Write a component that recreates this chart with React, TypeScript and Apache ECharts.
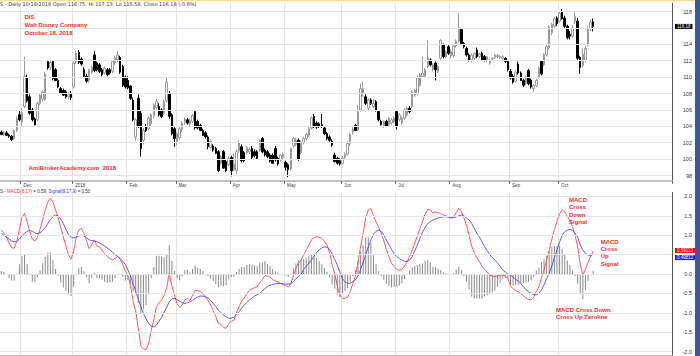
import React, { useEffect, useRef } from "react";
import * as echarts from "echarts";

// ---------- categories: trading days shown ----------
const DAYS_2017_11 = [20, 21, 22, 24, 27, 28, 29, 30];
const DAYS_2017_12 = [1, 4, 5, 6, 7, 8, 11, 12, 13, 14, 15, 18, 19, 20, 21, 22, 26, 27, 28, 29];
const DAYS_2018_01 = [2, 3, 4, 5, 8, 9, 10, 11, 12, 16, 17, 18, 19, 22, 23, 24, 25, 26, 29, 30, 31];
const DAYS_2018_02 = [1, 2, 5, 6, 7, 8, 9, 12, 13, 14, 15, 16, 20, 21, 22, 23, 26, 27, 28];
const DAYS_2018_03 = [1, 2, 5, 6, 7, 8, 9, 12, 13, 14, 15, 16, 19, 20, 21, 22, 23, 26, 27, 28, 29];
const DAYS_2018_04 = [2, 3, 4, 5, 6, 9, 10, 11, 12, 13, 16, 17, 18, 19, 20, 23, 24, 25, 26, 27, 30];
const DAYS_2018_05 = [1, 2, 3, 4, 7, 8, 9, 10, 11, 14, 15, 16, 17, 18, 21, 22, 23, 24, 25, 29, 30, 31];
const DAYS_2018_06 = [1, 4, 5, 6, 7, 8, 11, 12, 13, 14, 15, 18, 19, 20, 21, 22, 25, 26, 27, 28, 29];
const DAYS_2018_07 = [2, 3, 5, 6, 9, 10, 11, 12, 13, 16, 17, 18, 19, 20, 23, 24, 25, 26, 27, 30, 31];
const DAYS_2018_08 = [1, 2, 3, 6, 7, 8, 9, 10, 13, 14, 15, 16, 17, 20, 21, 22, 23, 24, 27, 28, 29, 30, 31];
const DAYS_2018_09 = [4, 5, 6, 7, 10, 11, 12, 13, 14, 17, 18, 19, 20, 21, 24, 25, 26, 27, 28];
const DAYS_2018_10 = [1, 2, 3, 4, 5, 8, 9, 10, 11, 12, 15, 16, 17, 18];

const MONTH_BLOCKS: [number, number, number[]][] = [
  [2017, 11, DAYS_2017_11], [2017, 12, DAYS_2017_12], [2018, 1, DAYS_2018_01],
  [2018, 2, DAYS_2018_02], [2018, 3, DAYS_2018_03], [2018, 4, DAYS_2018_04],
  [2018, 5, DAYS_2018_05], [2018, 6, DAYS_2018_06], [2018, 7, DAYS_2018_07],
  [2018, 8, DAYS_2018_08], [2018, 9, DAYS_2018_09], [2018, 10, DAYS_2018_10],
];
// tick labels for the first trading day of each month from December on
const TICK_LABELS = ["Dec", "2018", "Feb", "Mar", "Apr", "May", "Jun", "Jul", "Aug", "Sep", "Oct"];
const EMPTY_RIGHT_SLOTS = 30;

// ---------- price data [open, high, low, close] ----------
const OHLC_2017_11 = [
  [103.3, 103.5, 102.9, 103.0], [103.0, 103.4, 102.8, 103.2], [103.2, 103.4, 102.8, 102.9],
  [102.9, 103.1, 102.6, 102.8], [102.8, 102.9, 102.2, 102.4], [102.5, 103.6, 102.3, 103.5],
  [103.5, 105.2, 103.3, 104.9], [105.4, 106.0, 104.6, 104.8],
];
const OHLC_2017_12 = [
  [104.5, 106.2, 104.0, 105.7], [106.4, 112.5, 106.2, 110.1], [109.9, 110.3, 106.9, 107.1],
  [107.6, 107.9, 105.4, 105.6], [106.0, 106.2, 104.6, 104.8], [104.9, 105.1, 104.1, 104.2],
  [104.8, 107.0, 104.6, 106.8], [106.8, 108.0, 106.6, 107.8], [107.3, 108.4, 107.0, 108.2],
  [107.3, 110.6, 107.1, 110.4], [111.9, 112.1, 110.9, 111.1], [111.2, 112.1, 110.8, 111.8],
  [111.9, 112.0, 109.6, 109.8], [110.9, 111.1, 109.5, 109.6], [109.6, 109.8, 108.7, 108.8],
  [108.6, 108.8, 107.9, 108.0], [108.4, 108.6, 107.7, 107.8], [108.2, 108.4, 107.4, 107.6],
  [107.6, 108.2, 107.3, 107.9], [108.0, 108.3, 107.2, 107.5],
];
const OHLC_2018_01 = [
  [108.8, 111.9, 108.6, 111.7], [111.9, 113.2, 111.6, 112.9], [113.0, 113.3, 111.6, 111.8],
  [112.2, 112.4, 111.4, 111.6], [110.9, 111.2, 110.0, 110.1], [110.1, 110.4, 109.3, 109.5],
  [109.6, 111.0, 109.3, 110.9], [110.6, 111.4, 110.4, 111.2], [112.7, 113.2, 110.6, 110.8],
  [111.7, 111.9, 110.7, 110.9], [111.5, 111.7, 110.5, 110.7], [110.9, 111.1, 110.1, 110.3],
  [110.5, 111.3, 110.3, 111.1], [110.9, 111.1, 110.1, 110.3], [110.9, 111.1, 110.3, 110.5],
  [110.7, 112.0, 110.5, 111.9], [111.7, 112.6, 111.5, 112.3], [112.1, 113.2, 111.8, 112.7],
  [112.4, 112.6, 110.4, 110.6], [111.3, 111.5, 108.8, 109.0], [110.0, 110.2, 108.6, 108.8],
];
const OHLC_2018_02 = [
  [109.6, 110.1, 108.5, 108.7], [108.9, 109.0, 107.2, 107.4], [107.2, 107.5, 104.6, 104.8],
  [102.7, 105.0, 102.2, 104.8], [107.4, 107.9, 103.8, 104.0], [105.6, 105.9, 100.3, 101.3],
  [102.3, 103.8, 101.8, 103.5], [104.0, 104.3, 103.3, 103.5], [103.7, 105.2, 103.5, 105.0],
  [104.3, 105.6, 104.0, 105.4], [105.3, 106.8, 105.0, 106.6], [106.3, 107.3, 106.1, 107.0],
  [106.4, 106.8, 105.2, 105.4], [106.0, 106.2, 105.0, 105.2], [105.6, 107.2, 105.4, 107.0],
  [107.1, 109.9, 106.9, 109.4], [108.0, 108.3, 104.9, 105.2], [105.4, 105.6, 102.9, 103.1],
  [103.7, 103.9, 101.5, 102.5],
];
const OHLC_2018_03 = [
  [102.1, 103.3, 101.7, 103.1], [102.6, 103.9, 102.3, 103.7], [103.6, 104.6, 103.3, 104.4],
  [104.5, 105.1, 104.2, 104.9], [104.8, 105.0, 104.2, 104.4], [104.3, 104.9, 104.0, 104.7],
  [104.6, 105.5, 104.4, 105.3], [105.8, 106.0, 103.6, 103.8], [104.6, 104.8, 103.6, 103.8],
  [104.1, 104.3, 103.4, 103.5], [103.5, 103.7, 102.8, 102.9], [103.2, 103.4, 102.5, 102.7],
  [102.7, 102.9, 101.2, 101.5], [101.4, 102.4, 101.2, 102.2], [101.6, 101.8, 100.9, 101.1],
  [101.3, 101.5, 100.6, 100.7], [100.9, 101.1, 98.4, 98.6], [99.5, 100.5, 99.3, 100.3],
  [100.9, 101.1, 98.8, 98.9], [99.7, 99.9, 98.4, 98.6], [99.3, 100.3, 99.1, 100.1],
];
const OHLC_2018_04 = [
  [100.2, 100.4, 97.9, 98.6], [98.7, 100.7, 98.5, 99.4], [98.6, 101.2, 98.2, 100.9],
  [101.0, 102.3, 100.8, 102.0], [101.5, 101.8, 99.6, 99.8], [100.8, 101.0, 99.6, 99.8],
  [100.8, 101.6, 100.6, 101.4], [100.9, 101.4, 100.6, 101.2], [101.3, 101.6, 100.0, 100.2],
  [100.9, 101.2, 100.2, 100.4], [100.9, 101.1, 100.0, 100.1], [101.1, 102.4, 100.9, 102.3],
  [102.5, 102.7, 100.7, 100.9], [101.1, 101.3, 100.3, 100.5], [100.9, 101.1, 100.1, 100.3],
  [100.5, 100.7, 99.6, 99.8], [100.5, 100.7, 99.4, 99.5], [101.3, 101.6, 99.7, 99.9],
  [100.1, 100.3, 99.2, 99.4], [99.9, 100.6, 99.7, 100.5], [100.2, 100.8, 99.9, 100.6],
];
const OHLC_2018_05 = [
  [99.6, 99.8, 98.6, 99.0], [99.3, 99.5, 97.8, 98.7], [98.8, 101.4, 98.6, 101.3],
  [101.6, 102.7, 101.4, 102.5], [101.8, 102.6, 101.6, 102.3], [102.3, 102.5, 99.8, 100.0],
  [100.8, 102.3, 100.6, 102.1], [102.0, 102.7, 101.8, 102.5], [102.5, 103.2, 102.3, 103.0],
  [102.9, 103.9, 102.7, 103.7], [103.8, 105.2, 103.6, 105.0], [105.2, 105.5, 103.8, 104.0],
  [104.4, 104.6, 103.7, 103.9], [104.3, 104.5, 103.8, 104.0], [104.2, 105.5, 103.8, 104.0],
  [103.8, 104.0, 102.9, 103.1], [103.1, 103.3, 102.3, 102.5], [102.7, 102.9, 102.1, 102.3],
  [102.2, 102.4, 101.5, 101.7], [100.5, 100.8, 99.6, 99.7], [100.1, 100.3, 99.3, 99.5],
  [99.8, 100.1, 99.2, 99.4],
];
const OHLC_2018_06 = [
  [99.5, 100.4, 99.3, 100.1], [100.2, 100.8, 99.9, 100.6], [100.6, 102.2, 100.4, 101.9],
  [101.9, 103.2, 101.6, 103.0], [103.3, 103.9, 103.0, 103.7], [104.1, 104.3, 103.4, 103.5],
  [103.6, 106.6, 103.4, 105.8], [106.0, 109.2, 105.8, 108.6], [108.0, 109.4, 107.6, 108.6],
  [107.6, 107.9, 106.6, 106.8], [106.2, 107.4, 106.0, 107.2], [107.2, 107.4, 106.6, 106.8],
  [106.4, 107.3, 106.2, 106.8], [107.0, 107.2, 105.8, 106.0], [105.8, 106.0, 104.6, 104.8],
  [104.6, 104.8, 104.1, 104.2], [104.0, 104.7, 103.8, 104.6], [104.6, 104.8, 103.9, 104.0],
  [104.2, 105.1, 104.0, 105.0], [104.4, 105.0, 104.2, 104.8], [104.6, 105.2, 104.4, 105.0],
];
const OHLC_2018_07 = [
  [105.8, 106.0, 103.6, 104.0], [104.8, 105.6, 104.6, 105.4], [104.4, 105.2, 104.2, 105.0],
  [105.0, 106.2, 104.8, 106.0], [105.4, 106.4, 105.2, 106.2], [106.2, 106.5, 105.6, 105.8],
  [106.4, 108.4, 106.2, 108.2], [107.8, 108.6, 107.6, 108.4], [108.0, 110.2, 107.8, 110.0],
  [109.0, 110.5, 108.8, 110.3], [110.1, 112.5, 109.9, 110.5], [110.1, 111.1, 109.9, 110.9],
  [111.3, 114.5, 111.1, 112.3], [112.1, 112.3, 111.3, 111.5], [110.9, 111.7, 110.7, 111.5],
  [111.7, 111.9, 109.6, 110.9], [110.7, 111.5, 110.5, 111.3], [112.3, 114.6, 112.1, 114.5],
  [113.9, 114.1, 112.3, 112.5], [112.5, 113.3, 112.3, 113.1], [113.7, 113.9, 112.7, 112.9],
];
const OHLC_2018_08 = [
  [112.6, 113.4, 112.3, 113.1], [112.6, 114.0, 112.4, 113.8], [113.8, 114.6, 113.6, 114.4],
  [114.4, 117.8, 114.2, 115.9], [115.8, 116.0, 113.9, 114.1], [114.1, 114.3, 113.5, 113.7],
  [113.5, 113.7, 112.5, 112.7], [112.7, 112.9, 111.9, 112.1], [112.1, 112.9, 111.8, 112.7],
  [112.3, 113.0, 112.0, 112.9], [113.3, 113.6, 112.3, 112.5], [112.5, 113.0, 112.3, 112.8],
  [112.9, 113.1, 112.0, 112.1], [112.5, 112.7, 111.9, 112.1], [112.1, 112.6, 111.8, 112.5],
  [111.7, 112.2, 111.5, 112.0], [112.2, 112.4, 112.0, 112.3], [112.4, 112.8, 112.2, 112.7],
  [112.5, 112.8, 112.3, 112.6], [112.4, 112.7, 112.2, 112.5], [112.3, 112.7, 112.1, 112.5],
  [112.3, 112.4, 111.7, 111.9], [111.9, 112.0, 110.7, 110.9],
];
const OHLC_2018_09 = [
  [110.7, 111.0, 109.7, 109.9], [110.1, 110.4, 109.2, 109.4], [109.5, 110.8, 109.3, 110.6],
  [111.6, 111.9, 110.3, 110.5], [110.5, 110.7, 109.5, 109.6], [109.6, 109.8, 108.8, 109.0],
  [109.2, 110.2, 109.0, 110.0], [110.8, 111.0, 109.0, 109.2], [109.6, 109.8, 108.6, 108.8],
  [108.6, 109.1, 108.2, 109.0], [109.0, 109.8, 108.8, 109.6], [110.0, 111.3, 109.8, 111.1],
  [111.9, 112.0, 110.2, 110.4], [111.5, 112.9, 111.3, 112.7], [112.7, 113.9, 112.5, 113.7],
  [113.6, 116.3, 113.4, 116.1], [115.4, 116.6, 115.1, 116.4], [116.2, 117.3, 116.0, 117.1],
  [117.2, 117.4, 116.2, 116.5],
];
const OHLC_2018_10 = [
  [116.8, 118.0, 116.6, 117.8], [118.0, 118.3, 117.0, 117.1], [117.2, 117.5, 116.0, 116.2],
  [116.2, 116.4, 114.6, 114.8], [115.2, 115.6, 114.6, 115.0], [115.0, 116.3, 114.8, 116.0],
  [116.8, 117.9, 116.5, 117.4], [116.8, 117.2, 112.0, 112.3], [112.4, 112.6, 110.4, 111.2],
  [111.4, 113.5, 111.2, 112.8], [112.0, 113.8, 111.8, 113.5], [113.9, 116.2, 113.7, 115.9],
  [115.9, 117.0, 115.6, 116.7], [116.75, 117.13, 115.58, 116.18],
];

// ---------- MACD(8,17) and Signal(8,17,9), one value per trading day ----------
const MACD_LINE = [
  1.13, 1.05, 0.95, 0.8, 0.68, 0.66, 0.85, 1.15, 1.45, 1.56,
  1.35, 1.1, 0.9, 0.85, 0.95, 1.15, 1.4, 1.65, 1.85, 1.95,
  1.85, 1.65, 1.45, 1.2, 0.95, 0.72, 0.5, 0.38, 0.6, 0.95,
  1.13, 1.18, 1.05, 0.85, 0.65, 0.75, 0.88, 0.72, 0.7, 0.62,
  0.52, 0.45, 0.4, 0.36, 0.4, 0.45, 0.38, 0.25, 0.08, -0.05,
  -0.3, -0.7, -0.95, -1.4, -1.85, -1.93, -1.95, -1.79, -1.45, -1.18,
  -0.85, -0.75, -0.67, -0.55, -0.35, 0.02, -0.3, -0.55, -0.76, -0.86,
  -0.8, -0.66, -0.63, -0.68, -0.55, -0.42, -0.43, -0.45, -0.5, -0.6,
  -0.68, -0.8, -0.95, -1.1, -1.27, -1.3, -1.38, -1.4, -1.28, -1.22,
  -1.19, -1.0, -0.84, -0.7, -0.62, -0.5, -0.42, -0.38, -0.35, -0.33,
  -0.22, -0.15, -0.04, -0.06, -0.08, -0.14, -0.18, -0.2, -0.24, -0.28,
  -0.3, -0.34, -0.25, -0.05, 0.15, 0.28, 0.36, 0.5, 0.62, 0.75,
  0.88, 0.93, 0.96, 0.95, 0.92, 0.85, 0.75, 0.55, 0.25, 0.0,
  -0.3, -0.55, -0.63, -0.63, -0.6, -0.45, -0.25, -0.05, 0.3, 0.7,
  1.05, 1.45, 1.65, 1.69, 1.5, 1.35, 1.2, 1.05, 0.85, 0.63,
  0.45, 0.28, 0.19, 0.12, 0.1, 0.12, 0.2, 0.32, 0.45, 0.62,
  0.8, 0.98, 1.18, 1.35, 1.55, 1.67, 1.65, 1.57, 1.6, 1.58,
  1.56, 1.52, 1.5, 1.46, 1.44, 1.47, 1.58, 1.69, 1.62, 1.45,
  1.24, 1.0, 0.72, 0.55, 0.42, 0.32, 0.2, 0.12, 0.05, -0.03,
  -0.05, -0.07, -0.05, -0.03, -0.03, -0.05, -0.12, -0.3, -0.38, -0.43,
  -0.46, -0.5, -0.56, -0.62, -0.66, -0.67, -0.6, -0.45, -0.33, -0.1,
  0.1, 0.35, 0.62, 0.9, 1.15, 1.35, 1.55, 1.65, 1.6, 1.48,
  1.38, 1.22, 1.0, 0.7, 0.25, -0.03, 0.12, 0.3, 0.45, 0.59,
];
const SIGNAL_LINE = [
  1.05, 1.0, 0.95, 0.9, 0.85, 0.83, 0.84, 0.9, 0.98, 1.05,
  1.1, 1.12, 1.1, 1.06, 1.04, 1.06, 1.12, 1.2, 1.3, 1.4,
  1.48, 1.52, 1.5, 1.42, 1.3, 1.15, 1.02, 0.95, 0.93, 0.95,
  0.98, 1.0, 0.98, 0.93, 0.88, 0.86, 0.85, 0.83, 0.8, 0.76,
  0.72, 0.67, 0.62, 0.56, 0.5, 0.45, 0.4, 0.33, 0.25, 0.1,
  -0.05, -0.25, -0.45, -0.65, -0.84, -1.02, -1.15, -1.27, -1.35, -1.36,
  -1.32, -1.22, -1.12, -0.98, -0.85, -0.72, -0.64, -0.63, -0.66, -0.7,
  -0.74, -0.76, -0.74, -0.72, -0.68, -0.63, -0.59, -0.57, -0.57, -0.59,
  -0.62, -0.68, -0.76, -0.84, -0.93, -1.0, -1.06, -1.11, -1.14, -1.14,
  -1.12, -1.05, -0.97, -0.88, -0.8, -0.73, -0.67, -0.62, -0.57, -0.53,
  -0.5, -0.44, -0.37, -0.32, -0.29, -0.27, -0.25, -0.24, -0.24, -0.25,
  -0.26, -0.26, -0.25, -0.2, -0.12, -0.07, 0.0, 0.12, 0.2, 0.28,
  0.36, 0.46, 0.55, 0.62, 0.67, 0.7, 0.69, 0.64, 0.52, 0.38,
  0.23, 0.05, -0.12, -0.2, -0.24, -0.24, -0.2, -0.15, -0.05, 0.12,
  0.3, 0.5, 0.7, 0.88, 1.02, 1.1, 1.13, 1.1, 1.0, 0.88,
  0.75, 0.63, 0.52, 0.45, 0.4, 0.36, 0.33, 0.32, 0.36, 0.45,
  0.6, 0.75, 0.92, 1.08, 1.2, 1.3, 1.35, 1.39, 1.42, 1.44,
  1.46, 1.47, 1.48, 1.47, 1.46, 1.45, 1.47, 1.5, 1.52, 1.5,
  1.44, 1.39, 1.3, 1.18, 1.05, 0.95, 0.83, 0.7, 0.6, 0.5,
  0.42, 0.36, 0.28, 0.2, 0.1, 0.05, 0.0, -0.03, -0.08, -0.14,
  -0.18, -0.25, -0.33, -0.4, -0.46, -0.5, -0.53, -0.54, -0.5, -0.41,
  -0.28, -0.12, 0.02, 0.2, 0.42, 0.62, 0.82, 1.0, 1.09, 1.13,
  1.15, 1.13, 1.05, 0.95, 0.75, 0.62, 0.53, 0.49, 0.48, 0.5,
];

// axis labels (the ones under the last-value tags are covered in the reference)
const PRICE_LABELS = [98, 100, 102, 104, 106, 108, 110, 112, 114, 118];
const MACD_LABELS = [-2, -1.5, -1, -0.5, 0, 1, 1.5, 2];
const PRICE_GRID = [98, 100, 102, 104, 106, 108, 110, 112, 114, 116, 118];
const MACD_GRID = [-2, -1.5, -1, -0.5, 0, 0.5, 1, 1.5, 2];
const MACD_LAST_TEXT = "0.59113";
const SIGNAL_LAST_TEXT = "0.49812";

// ---------- derived structures ----------
const OHLC = [
  ...OHLC_2017_11, ...OHLC_2017_12, ...OHLC_2018_01, ...OHLC_2018_02, ...OHLC_2018_03,
  ...OHLC_2018_04, ...OHLC_2018_05, ...OHLC_2018_06, ...OHLC_2018_07, ...OHLC_2018_08,
  ...OHLC_2018_09, ...OHLC_2018_10,
];
const CANDLES = OHLC.map(([o, h, l, c]) => [o, c, l, h]);
const HIST = MACD_LINE.map((v, i) => Math.round((v - SIGNAL_LINE[i]) * 1000) / 1000);

const DATES: string[] = [];
const MONTH_START: Record<number, string> = {};
MONTH_BLOCKS.forEach(([y, m, days], k) => {
  if (k > 0) MONTH_START[DATES.length] = TICK_LABELS[k - 1];
  days.forEach((d) => DATES.push(`${y}-${String(m).padStart(2, "0")}-${String(d).padStart(2, "0")}`));
});
const X_CATS = [...DATES, ...Array.from({ length: EMPTY_RIGHT_SLOTS }, (_, k) => `blank${k}`)];
const isMonthStart = (idx: number) => MONTH_START[idx] !== undefined;

const FONT = "'Liberation Sans', Arial, Helvetica, sans-serif";
const WIDE_FONT = "'DejaVu Sans', Verdana, sans-serif";
const LAST = OHLC[OHLC.length - 1];
const HEADER = `S - Daily 10/18/2018 Open ${LAST[0].toFixed(2)}, Hi ${LAST[1].toFixed(2)}, Lo ${LAST[2].toFixed(2)}, Close ${LAST[3].toFixed(2)} (-0.6%)`;

function xAxisCfg(gridIndex: number, withLabels: boolean) {
  return {
    type: "category",
    gridIndex,
    data: X_CATS,
    boundaryGap: true,
    axisLine: { show: true, onZero: false, lineStyle: { color: "#bdbdbd", width: 2 } },
    axisTick: withLabels
      ? { show: true, interval: isMonthStart, length: 2.5, lineStyle: { color: "#555", width: 1 } }
      : { show: false },
    axisLabel: withLabels
      ? {
          show: true,
          interval: isMonthStart,
          formatter: (_v: string, idx: number) => MONTH_START[idx] ?? "",
          fontSize: 4.6,
          color: "#444",
          align: "left",
          margin: 2,
          padding: [0, 0, 0, 1.5],
          fontFamily: FONT,
        }
      : { show: false },
    splitLine: { show: true, interval: isMonthStart, lineStyle: { color: "#e3e3e3", width: 1 } },
  };
}

function gridLines(values: number[]) {
  return {
    silent: true,
    symbol: ["none", "none"],
    label: { show: false },
    lineStyle: { color: "#e6e6e6", width: 1, type: "solid" },
    emphasis: { disabled: true },
    data: values.map((v) => ({ yAxis: v })),
  };
}

function endTag(value: number, text: string, bg: string, offsetY: number) {
  return {
    silent: true,
    symbol: ["none", "none"],
    lineStyle: { color: "rgba(0,0,0,0)", width: 0, opacity: 1 },
    emphasis: { disabled: true },
    label: {
      show: true,
      position: "end",
      formatter: text,
      color: "#ffffff",
      opacity: 1,
      backgroundColor: bg,
      fontSize: 4.5,
      lineHeight: 5,
      fontFamily: FONT,
      padding: [0, 2, 0, 2],
      distance: 3,
      offset: [0, offsetY],
    },
    data: [{ yAxis: value }],
  };
}

const inList = (list: number[], v: number) => list.some((x) => Math.abs(x - v) < 1e-6);

function buildOption() {
  return {
    animation: false,
    backgroundColor: "#ffffff",
    textStyle: { fontFamily: FONT },
    grid: [
      { left: 0, right: 28, top: 3.3, height: 177.94 },
      { left: 0, right: 28, top: 192.5, height: 163 },
    ],
    xAxis: [xAxisCfg(0, true), xAxisCfg(1, false)],
    yAxis: [
      {
        type: "value",
        gridIndex: 0,
        position: "right",
        min: 97.3,
        max: 119,
        interval: 0.1,
        axisLine: { show: true, lineStyle: { color: "#555", width: 1 } },
        axisTick: { show: false },
        splitLine: { show: false },
        axisLabel: {
          fontSize: 5.5,
          color: "#333",
          align: "right",
          margin: 20,
          fontFamily: FONT,
          formatter: (v: number) => {
            const r = Math.round(v);
            return Math.abs(v - r) < 1e-6 && inList(PRICE_LABELS, r) ? String(r) : "";
          },
        },
      },
      {
        type: "value",
        gridIndex: 1,
        position: "right",
        min: -2.1,
        max: 2.1,
        interval: 0.1,
        axisLine: { show: true, lineStyle: { color: "#555", width: 1 } },
        axisTick: { show: false },
        splitLine: { show: false },
        axisLabel: {
          fontSize: 5.5,
          color: "#333",
          align: "right",
          margin: 20,
          fontFamily: FONT,
          formatter: (v: number) => {
            const r = Math.round(v * 2) / 2;
            return Math.abs(v - r) < 1e-6 && inList(MACD_LABELS, r) ? r.toFixed(1) : "";
          },
        },
      },
    ],
    series: [
      {
        type: "line",
        name: "priceGrid",
        xAxisIndex: 0,
        yAxisIndex: 0,
        data: [],
        z: 1,
        markLine: gridLines(PRICE_GRID),
      },
      {
        type: "candlestick",
        name: "DIS",
        xAxisIndex: 0,
        yAxisIndex: 0,
        data: CANDLES,
        barWidth: 2,
        z: 3,
        itemStyle: {
          color: "#ffffff",
          color0: "#000000",
          borderColor: "#9a9a9a",
          borderColor0: "#000000",
          borderWidth: 1,
        },
        markLine: endTag(LAST[3], LAST[3].toFixed(2), "#000000", 0),
      },
      {
        type: "line",
        name: "macdGrid",
        xAxisIndex: 1,
        yAxisIndex: 1,
        data: [],
        z: 1,
        markLine: gridLines(MACD_GRID),
      },
      {
        type: "bar",
        name: "Histogram",
        xAxisIndex: 1,
        yAxisIndex: 1,
        data: HIST,
        barWidth: 1,
        z: 2,
        itemStyle: { color: "#8a8a8a" },
      },
      {
        type: "line",
        name: "MACD",
        xAxisIndex: 1,
        yAxisIndex: 1,
        data: MACD_LINE,
        showSymbol: false,
        symbol: "none",
        z: 4,
        lineStyle: { color: "#ff4a4a", width: 0.9 },
        markLine: endTag(MACD_LINE[MACD_LINE.length - 1], MACD_LAST_TEXT, "#ff0000", -0.6),
      },
      {
        type: "line",
        name: "Signal",
        xAxisIndex: 1,
        yAxisIndex: 1,
        data: SIGNAL_LINE,
        showSymbol: false,
        symbol: "none",
        z: 4,
        lineStyle: { color: "#4a4aff", width: 0.9 },
        markLine: endTag(SIGNAL_LINE[SIGNAL_LINE.length - 1], SIGNAL_LAST_TEXT, "#2020ff", 3),
      },
    ],
    graphic: [
      { type: "rect", z: 10, shape: { x: 0, y: 0, width: 700, height: 1.3 }, style: { fill: "#f6e08a" } },
      { type: "rect", z: 10, shape: { x: 695, y: 0, width: 5, height: 356 }, style: { fill: "#3b5897" } },
      {
        type: "text",
        z: 10,
        x: 0,
        y: 1.6,
        style: { text: HEADER, fontSize: 5, fill: "#333", fontFamily: WIDE_FONT, verticalAlign: "top" },
      },
      {
        type: "text",
        z: 10,
        x: 24.5,
        y: 13.6,
        style: {
          text: "DIS\nWalt Disney Company\nOctober 18, 2018",
          fontSize: 6,
          fontWeight: "bold",
          lineHeight: 7.6,
          fill: "#ff2b2b",
          fontFamily: FONT,
          verticalAlign: "top",
        },
      },
      {
        type: "text",
        z: 10,
        x: 28.5,
        y: 167.5,
        style: {
          text: "AmiBrokerAcademy.com  2018",
          fontSize: 6,
          fontWeight: "bold",
          fill: "#ff2b2b",
          fontFamily: FONT,
          verticalAlign: "middle",
        },
      },
      {
        type: "text",
        z: 10,
        x: 0,
        y: 191.5,
        style: {
          text: "{k|S - }{r|MACD(8,17)}{k| = 0.59, }{b|Signal(8,17,9)}{k| = 0.50}",
          verticalAlign: "middle",
          fontFamily: FONT,
          rich: {
            k: { fontSize: 4.5, fill: "#333", fontFamily: FONT },
            r: { fontSize: 4.5, fill: "#ff2b2b", fontFamily: FONT },
            b: { fontSize: 4.5, fill: "#3030ff", fontFamily: FONT },
          },
        },
      },
      {
        type: "text",
        z: 10,
        x: 569,
        y: 196.4,
        style: {
          text: "MACD\nCross\nDown\nSignal",
          fontSize: 6,
          fontWeight: "bold",
          lineHeight: 7.3,
          fill: "#ff2b2b",
          fontFamily: FONT,
          verticalAlign: "top",
        },
      },
      {
        type: "text",
        z: 10,
        x: 600.7,
        y: 238,
        style: {
          text: "MACD\nCross\nUp\nSignal",
          fontSize: 6,
          fontWeight: "bold",
          lineHeight: 7.3,
          fill: "#ff2b2b",
          fontFamily: FONT,
          verticalAlign: "top",
        },
      },
      {
        type: "text",
        z: 10,
        x: 556,
        y: 306.3,
        style: {
          text: "MACD Cross Down\nCross Up Zeroline",
          fontSize: 6,
          fontWeight: "bold",
          lineHeight: 7.3,
          fill: "#ff2b2b",
          fontFamily: FONT,
          verticalAlign: "top",
        },
      },
    ],
  };
}

export default function App() {
  const ref = useRef<HTMLDivElement>(null);
  useEffect(() => {
    document.body.style.margin = "0";
    const el = ref.current;
    if (!el) return;
    const chart = echarts.init(el, undefined, { renderer: "svg" });
    chart.setOption(buildOption() as any);
    return () => chart.dispose();
  }, []);
  return (
    <div
      ref={ref}
      style={{ position: "fixed", left: 0, top: 0, width: 700, height: 356, background: "#ffffff" }}
    />
  );
}
